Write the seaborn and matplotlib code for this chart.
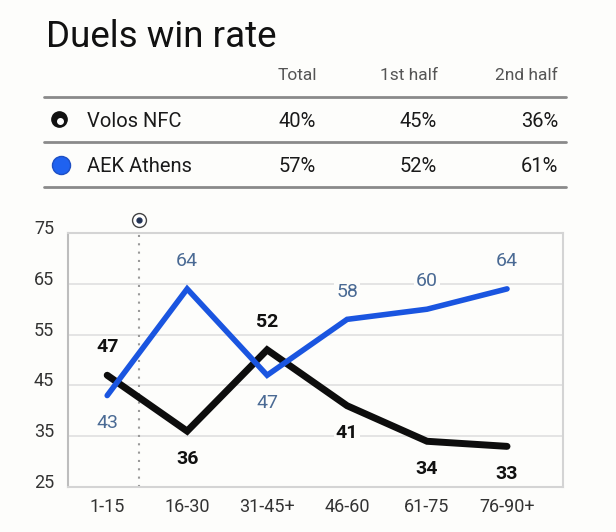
import numpy as np
import pandas as pd
import matplotlib.pyplot as plt
import matplotlib.transforms as mtransforms
from matplotlib.lines import Line2D
import seaborn as sns

# Dados
periods = ["1-15", "16-30", "31-45+", "46-60", "61-75", "76-90+"]
volos = [47, 36, 52, 41, 34, 33]
aek = [43, 64, 47, 58, 60, 64]
teams = ["Volos NFC", "AEK Athens"]
col_headers = ["Total", "1st half", "2nd half"]
volos_pct = ["40%", "45%", "36%"]
aek_pct = ["57%", "52%", "61%"]
yticks = [25, 35, 45, 55, 65, 75]

W, H = 616, 532
BG = "#fdfdfb"
BLUE = "#1a55e0"
BLUE_TXT = "#4a6a94"

sns.set_style("white")
plt.rcParams['font.family'] = ['Roboto', 'DejaVu Sans']


def px(x, y):
    # pixel -> fracao da figura
    return x / W, 1 - y / H


fig = plt.figure(figsize=(W / 100, H / 100), dpi=100, facecolor=BG)

# Titulo e tabela
fig.text(*px(46, 47), "Duels win rate", fontsize=26.5, color="#111111",
         ha="left", va="baseline")

for x, h in zip([317, 438, 558], col_headers):
    fig.text(*px(x, 76), h, fontsize=12.5, color="#555555", ha="right",
             va="center")

for y in [97, 142, 187]:
    fig.add_artist(Line2D([44 / W, 566 / W], [1 - y / H, 1 - y / H],
                          color="#8a8a8a", lw=2, transform=fig.transFigure))

rows = [(121, teams[0], volos_pct), (166, teams[1], aek_pct)]
for y, name, vals in rows:
    fig.text(*px(87, y), name, fontsize=14.5, color="#1a1a1a", ha="left",
             va="center")
    for x, v in zip([316, 437, 558], vals):
        fig.text(*px(x, y), v, fontsize=14.5, color="#1a1a1a", ha="right",
                 va="center")

# icones das equipes
icon_ax = fig.add_axes([0, 0, 1, 1], facecolor="none")
icon_ax.set_xlim(0, W)
icon_ax.set_ylim(H, 0)
icon_ax.axis("off")
icon_ax.plot(59, 119, marker="o", ms=11, mfc="#111111", mec="#111111")
icon_ax.plot(60, 121, marker="o", ms=4, mfc="white", mec="white")
icon_ax.plot(61, 165, marker="o", ms=13, mfc="#1f62f0", mec="#1d4fc4", mew=1)

# Grafico
ax = fig.add_axes([68 / W, 1 - 487 / H, (563 - 68) / W, (487 - 233) / H],
                  facecolor=BG)
x = np.arange(len(periods))
df = pd.DataFrame({"x": np.concatenate([x, x]),
                   "value": volos + aek,
                   "team": [teams[0]] * len(x) + [teams[1]] * len(x)})

ax.axvline(0.4, color="#999999", lw=1.5, ls=(0, (1, 3)), zorder=1)
for yv in yticks[1:-1]:
    ax.axhline(yv, color="#e2e2e2", lw=1.3, zorder=0)

sns.lineplot(data=df, x="x", y="value", hue="team",
             palette={teams[0]: "#0d0d0d", teams[1]: BLUE},
             ax=ax, legend=False, zorder=3)
for line, lw in zip(ax.get_lines()[-2:], [5, 4]):
    line.set_linewidth(lw)
    line.set_solid_joinstyle("miter")
    line.set_solid_capstyle("round")

# rotulos dos valores
volos_pos = [1, -1, 1, -1, -1, -1]
aek_pos = [-1, 1, -1, 1, 1, 1]
for i in range(len(periods)):
    ax.annotate(str(volos[i]), (x[i], volos[i]), xytext=(0, 20 * volos_pos[i]),
                textcoords="offset points", ha="center", va="center",
                fontsize=14, fontweight="bold", color="#111111", zorder=4,
                bbox=dict(boxstyle="square,pad=0.1", fc=BG, ec="none"))
    ax.annotate(str(aek[i]), (x[i], aek[i]), xytext=(0, 20 * aek_pos[i]),
                textcoords="offset points", ha="center", va="center",
                fontsize=14, color=BLUE_TXT, zorder=4,
                bbox=dict(boxstyle="square,pad=0.1", fc=BG, ec="none"))

ax.set_xlim(-0.49, 5.7)
ax.set_ylim(25, 75)
ax.set_xticks(x)
ax.set_xticklabels(periods)
ax.set_yticks(yticks)
ax.set_xlabel("")
ax.set_ylabel("")
ax.tick_params(axis="both", length=0, labelsize=13, labelcolor="#333333")
ax.tick_params(axis="x", pad=8)
ax.tick_params(axis="y", pad=10)

offset = mtransforms.ScaledTranslation(0, 6 / 100, fig.dpi_scale_trans)
for lab in ax.get_yticklabels():
    lab.set_transform(lab.get_transform() + offset)

for s in ax.spines.values():
    s.set_color("#d4d4d4")
    s.set_linewidth(1.5)
ax.spines["left"].set_color("#bdbdbd")

# bola acima da linha pontilhada
ax.plot(0.4, 77.5, marker="o", ms=10, mfc="white", mec="#444444", mew=1,
        clip_on=False)
ax.plot(0.4, 77.5, marker="o", ms=3.5, mfc="#223355", mec="#223355",
        clip_on=False)

fig.savefig("out.png", dpi=100, facecolor=BG)
